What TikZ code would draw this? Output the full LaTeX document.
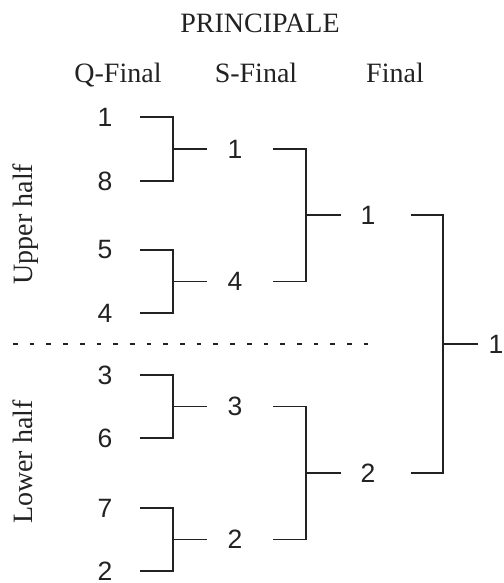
\documentclass[tikz,border=0pt]{standalone}
\usepackage{fontspec}
\setmainfont{Liberation Serif}
\newfontfamily\numfont{Liberation Sans}
\usetikzlibrary{calc}
\definecolor{ink}{HTML}{222222}
\begin{document}
\begin{tikzpicture}[x=1pt,y=-1pt,
  num/.style={font=\numfont\fontsize{26.5}{26.5}\selectfont, inner sep=0pt, text=ink},
  lab/.style={font=\fontsize{28}{28}\selectfont, inner sep=0pt, anchor=base, text=ink},
  br/.style={line width=1.8pt, draw=ink},
  dots/.style={line width=1.8pt, draw=ink, dash pattern=on 4.7pt off 12pt}]
\useasboundingbox (0,0) rectangle (503,583);
% headings
\node[lab] (title) at (260,32.7) {PRINCIPALE};
\node[lab] (hq) at (118,83) {Q-Final};
\node[lab] (hs) at (256,83) {S-Final};
\node[lab] (hf) at (395,83) {Final};
\node[lab, rotate=90] (up) at (32,224) {Upper half};
\node[lab, rotate=90] (lo) at (32,462) {Lower half};
% quarter-finals
\node[num] (q1) at (105,117) {1};
\node[num] (q2) at (105,181) {8};
\node[num] (q3) at (105,250) {5};
\node[num] (q4) at (105,313) {4};
\node[num] (q5) at (105,375) {3};
\node[num] (q6) at (105,438) {6};
\node[num] (q7) at (105,508) {7};
\node[num] (q8) at (105,571) {2};
% semi-finals
\node[num] (s1) at (235,149) {1};
\node[num] (s2) at (235,281.5) {4};
\node[num] (s3) at (235,406.5) {3};
\node[num] (s4) at (235,539.5) {2};
% finals
\node[num] (f1) at (368,215) {1};
\node[num] (f2) at (368,473) {2};
% winner
\node[num] (w) at (496,344) {1};
% quarter-final brackets
\draw[br] (q1.center) ++(35,0) -- ++(33,0) |- ($(q2)+(35,0)$);
\draw[br] (s1.center) ++(-28,0) -- ++(-34,0);
\draw[br] (q3.center) ++(35,0) -- ++(33,0) |- ($(q4)+(35,0)$);
\draw[br] (s2.center) ++(-28,0) -- ++(-34,0);
\draw[br] (q5.center) ++(35,0) -- ++(33,0) |- ($(q6)+(35,0)$);
\draw[br] (s3.center) ++(-28,0) -- ++(-34,0);
\draw[br] (q7.center) ++(35,0) -- ++(33,0) |- ($(q8)+(35,0)$);
\draw[br] (s4.center) ++(-28,0) -- ++(-34,0);
% semi-final brackets
\draw[br] (s1.center) ++(38,0) -- ++(33,0) |- ($(s2)+(38,0)$);
\draw[br] (f1.center) ++(-27,0) -- ++(-35,0);
\draw[br] (s3.center) ++(38,0) -- ++(33,0) |- ($(s4)+(38,0)$);
\draw[br] (f2.center) ++(-27,0) -- ++(-35,0);
% final bracket
\draw[br] (f1.center) ++(43,0) -- ++(32,0) |- ($(f2)+(43,0)$);
\draw[br] (w.center) ++(-18,0) -- ++(-35,0);
% divider
\coordinate (dl) at (13,344);
\coordinate (dr) at (368.5,344);
\draw[dots] (dl) -- (dr);
\end{tikzpicture}
\end{document}
